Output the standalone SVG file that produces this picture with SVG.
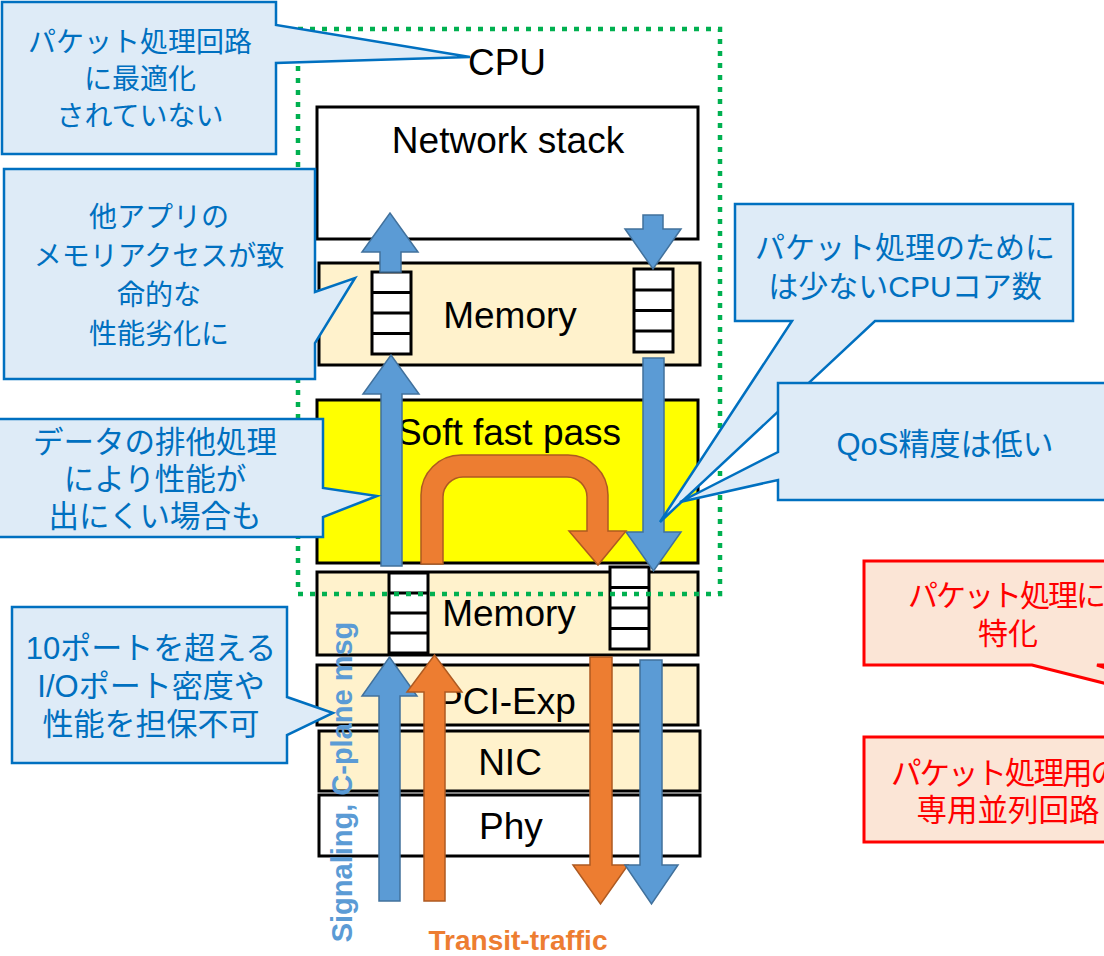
<svg xmlns="http://www.w3.org/2000/svg" width="1104" height="956" viewBox="0 0 1104 956">
<style>
.box{stroke:#000;stroke-width:3}
.mem{fill:#FFF2CC}
.lbl{font-family:"Liberation Sans",Arial,sans-serif;font-size:37px;fill:#000;text-anchor:middle}
.q{fill:#fff;stroke:#000;stroke-width:3}
.ba{fill:#5B9BD5;stroke:#41719C;stroke-width:1.5}
.oa{fill:#ED7D31;stroke:#AE5A21;stroke-width:1.5}
.cb{fill:#DEEBF7;stroke:#0070C0;stroke-width:2.5}
.cr{fill:#FBE5D6;stroke:#FF0000;stroke-width:3}
.jt{font-family:"Liberation Sans","Noto Sans CJK JP",sans-serif;font-size:28px;text-anchor:middle}
.jb{fill:#0070C0}
.jr{fill:#FF0000}
</style>
<rect width="1104" height="956" fill="#fff"/>
<g id="network-stack"><rect class="box" x="317" y="107" width="381" height="132" fill="#fff"/><text class="lbl" x="508" y="153">Network stack</text></g>
<g id="memory1"><rect class="box mem" x="319" y="263" width="381" height="102"/><text class="lbl" x="510" y="328">Memory</text></g>
<g id="soft-fast-pass"><rect class="box" x="317" y="400" width="381" height="163" fill="#FFFF00"/><text class="lbl" x="509" y="445">Soft fast pass</text></g>
<g id="memory2"><rect class="box mem" x="317" y="572" width="381" height="83"/><text class="lbl" x="509" y="626">Memory</text></g>
<g id="pci-exp"><rect class="box mem" x="317" y="665" width="381" height="60"/><text class="lbl" x="507" y="714">PCI-Exp</text></g>
<g id="nic"><rect class="box mem" x="319" y="731" width="381" height="60"/><text class="lbl" x="510" y="775">NIC</text></g>
<g id="phy"><rect class="box" x="319" y="795" width="381" height="61" fill="#fff"/><text class="lbl" x="511" y="839">Phy</text></g>
<g id="queues">
<g id="q1"><rect class="q" x="372" y="272" width="39" height="82"/><path d="M372,292.5H411M372,313H411M372,333.5H411" stroke="#000" stroke-width="3"/></g>
<g id="q2"><rect class="q" x="634" y="269" width="39" height="83"/><path d="M634,290H673M634,310.5H673M634,331H673" stroke="#000" stroke-width="3"/></g>
<g id="q3"><rect class="q" x="389" y="573" width="39" height="80"/><path d="M389,593H428M389,613H428M389,633H428" stroke="#000" stroke-width="3"/></g>
<g id="q4"><rect class="q" x="610" y="567" width="39" height="82"/><path d="M610,587.5H649M610,608H649M610,628.5H649" stroke="#000" stroke-width="3"/></g>
</g>
<g id="connectors">
<path class="ba" d="M380,272 L380,252 L362,252 L390,213 L418,252 L401,252 L401,272 Z"/>
<path class="ba" d="M381,566 L381,394 L363,394 L391,355 L419,394 L402,394 L402,566 Z"/>
<path class="ba" d="M379,901 L379,696 L362,696 L389.5,657 L417,696 L400,696 L400,901 Z"/>
<path class="oa" d="M424,901 L424,692 L407,692 L434.5,655 L462,692 L445,692 L445,901 Z"/>
<path class="oa" d="M590,657 L612,657 L612,865 L628,865 L600.5,904 L573,865 L590,865 Z"/>
<path class="ba" d="M640,660 L662,660 L662,865 L678,865 L651.5,904 L625,865 L640,865 Z"/>
<path class="ba" d="M643,358 L664,358 L664,532 L681,532 L653.5,571 L626,532 L643,532 Z"/>
<path class="ba" d="M643,215 L663,215 L663,229 L681,229 L653,269 L625,229 L643,229 Z"/>
<path class="oa" d="M421,564 L421,495 A40,40 0 0 1 461,455 L568,455 A40,40 0 0 1 608,495 L608,531 L626,531 L598,565 L569,531 L587,531 L587,497 A20,20 0 0 0 567,477 L463,477 A20,20 0 0 0 443,497 L443,564 Z"/>
</g>
<g id="cpu"><rect x="298" y="29" width="422" height="565" fill="none" stroke="#00B050" stroke-width="4.5" stroke-dasharray="5 7"/><text class="lbl" x="507" y="75">CPU</text></g>
<text x="352" y="782" transform="rotate(-90 352 782)" font-family="Liberation Sans,Arial,sans-serif" font-size="29" font-weight="bold" fill="#5B9BD5" text-anchor="middle">Signaling, C-plane msg</text>
<text x="518" y="950" font-family="Liberation Sans,Arial,sans-serif" font-size="28" font-weight="bold" fill="#ED7D31" text-anchor="middle">Transit-traffic</text>
<g id="callout1"><path class="cb" d="M2,2 L276,2 L276,25 L470,57 L276,63 L276,154 L2,154 Z"/><text class="jt jb" font-size="29"><tspan x="140" y="52">パケット処理回路</tspan><tspan x="140" y="89">に最適化</tspan><tspan x="140" y="126">されていない</tspan></text></g>
<g id="callout2"><path class="cb" d="M4,169 L315,169 L315,292 L355,278 L315,343 L315,379 L4,379 Z"/><text class="jt jb"><tspan x="159" y="227">他アプリの</tspan><tspan x="159" y="266">メモリアクセスが致</tspan><tspan x="159" y="305">命的な</tspan><tspan x="159" y="344">性能劣化に</tspan></text></g>
<g id="callout3"><path class="cb" d="M-13,419 L323,419 L323,488 L377,496 L323,517 L323,537 L-13,537 Z"/><text class="jt jb" style="font-size:30.5px"><tspan x="155" y="453">データの排他処理</tspan><tspan x="155" y="490">により性能が</tspan><tspan x="155" y="527">出にくい場合も</tspan></text></g>
<g id="callout4"><path class="cb" d="M12,607 L287,607 L287,697 L333,713 L287,735 L287,763 L12,763 Z"/><text class="jt jb" style="font-size:31px"><tspan x="151" y="659">10ポートを超える</tspan><tspan x="151" y="697">I/Oポート密度や</tspan><tspan x="151" y="735">性能を担保不可</tspan></text></g>
<g id="callout5"><path class="cb" d="M735,204 L1073,204 L1073,321 L875,321 L660,522 L792,321 L735,321 Z"/><text class="jt jb" style="font-size:30px"><tspan x="905" y="258">パケット処理のために</tspan><tspan x="905" y="297">は少ないCPUコア数</tspan></text></g>
<g id="callout6"><path class="cb" d="M778,383 L1112,383 L1112,500 L778,500 L778,480 L680,502 L778,452 Z"/><text class="jt jb" style="font-size:31px" x="945" y="455">QoS精度は低い</text></g>
<g id="callout7"><path class="cr" d="M864,561 L1150,561 L1150,665 L1097,665 L1250,720 L1032,665 L864,665 Z"/><text class="jt jr" style="font-size:30px"><tspan x="1006" y="606" letter-spacing="-2">パケット処理に</tspan><tspan x="1008" y="644">特化</tspan></text></g>
<g id="callout8"><rect class="cr" x="864" y="737" width="286" height="105"/><text class="jt jr" style="font-size:30.5px"><tspan x="1005" y="784" letter-spacing="-2">パケット処理用の</tspan><tspan x="1008" y="821">専用並列回路</tspan></text></g>
</svg>
